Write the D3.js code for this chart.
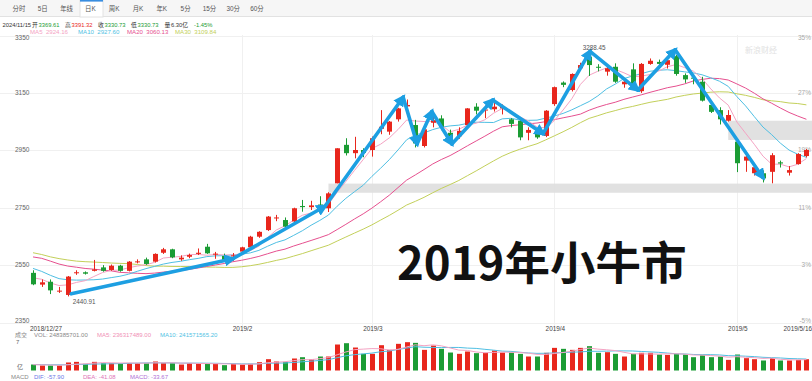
<!DOCTYPE html>
<html>
<head>
<meta charset="utf-8">
<script src="https://cdn.jsdelivr.net/npm/d3@7/dist/d3.min.js"></script>
<style>
  body { margin: 0; background: #fff; }
  svg { display: block; }
</style>
</head>
<body>
<div id="chart"></div>
<script>
// Shanghai composite daily K, 2018/12/27 - 2019/5/16
const dates = [
  "2018/12/27","2018/12/28",
  "2019/01/02","2019/01/03","2019/01/04","2019/01/07","2019/01/08","2019/01/09","2019/01/10","2019/01/11",
  "2019/01/14","2019/01/15","2019/01/16","2019/01/17","2019/01/18","2019/01/21","2019/01/22","2019/01/23",
  "2019/01/24","2019/01/25","2019/01/28","2019/01/29","2019/01/30","2019/01/31",
  "2019/02/01","2019/02/11","2019/02/12","2019/02/13","2019/02/14","2019/02/15","2019/02/18","2019/02/19",
  "2019/02/20","2019/02/21","2019/02/22","2019/02/25","2019/02/26","2019/02/27","2019/02/28",
  "2019/03/01","2019/03/04","2019/03/05","2019/03/06","2019/03/07","2019/03/08","2019/03/11","2019/03/12",
  "2019/03/13","2019/03/14","2019/03/15","2019/03/18","2019/03/19","2019/03/20","2019/03/21","2019/03/22",
  "2019/03/25","2019/03/26","2019/03/27","2019/03/28","2019/03/29",
  "2019/04/01","2019/04/02","2019/04/03","2019/04/04","2019/04/08","2019/04/09","2019/04/10","2019/04/11",
  "2019/04/12","2019/04/15","2019/04/16","2019/04/17","2019/04/18","2019/04/19","2019/04/22","2019/04/23",
  "2019/04/24","2019/04/25","2019/04/26","2019/04/29","2019/04/30",
  "2019/05/06","2019/05/07","2019/05/08","2019/05/09","2019/05/10","2019/05/13","2019/05/14","2019/05/15","2019/05/16"
]
const opens = [
  2523,2482,2492,2459,2446,2522,2525,2530,2542,2533,
  2548,2530,2561,2570,2562,2593,2605,2570,2579,2589,
  2614,2588,2582,2580,2597,2612,2649,2672,2713,2707,
  2702,2756,2752,2761,2748,2835,2969,2940,2951,2951,
  3025,3015,3058,3103,3038,2965,3046,3061,3011,2999,
  3038,3102,3089,3093,3096,3058,3053,3011,3009,3000,
  3111,3186,3160,3236,3276,3241,3224,3241,3180,3232,
  3156,3251,3258,3248,3278,3212,3203,3189,3108,3090,
  3053,2980,2914,2870,2870,2875,2908,2872,2902,2930
]
const highs = [
  2532,2500,2500,2474,2512,2532,2528,2568,2550,2552,
  2551,2564,2570,2576,2591,2610,2607,2584,2590,2608,
  2624,2596,2590,2592,2614,2652,2668,2721,2725,2716,
  2750,2777,2774,2790,2804,2957,2992,2997,2957,2998,
  3090,3052,3098,3127,3056,3030,3079,3072,3022,3030,
  3097,3114,3106,3116,3110,3062,3060,3030,3015,3090,
  3172,3190,3218,3255,3288.45,3250,3250,3253,3200,3253,
  3254,3270,3266,3272,3282,3218,3210,3206,3115,3100,
  3090,2987,2940,2900,2880,2940,2914,2895,2940,2955
]
const lows = [
  2480,2474,2449,2453,2440.91,2516,2517,2528,2527,2530,
  2527,2528,2556,2551,2559,2589,2574,2565,2574,2585,
  2589,2572,2566,2565,2594,2610,2645,2669,2703,2682,
  2700,2736,2742,2735,2735,2835,2932,2922,2926,2928,
  3006,3004,3050,3075,2960,2960,3030,3020,2980,2990,
  3030,3075,3062,3085,3075,3030,2985,2985,2990,2996,
  3105,3170,3155,3230,3209,3225,3210,3185,3168,3175,
  3150,3248,3245,3235,3210,3185,3180,3120,3080,3040,
  3050,2874,2875,2862,2838,2835,2890,2862,2900,2925
]
const closes = [
  2483,2490,2462,2461,2510,2525,2520,2535,2530,2548,
  2530,2562,2563,2554,2589,2605,2577,2576,2585,2593,
  2591,2590,2568,2584,2612,2649,2666,2719,2716,2684,
  2748,2752,2758,2752,2800,2957,2940,2951,2941,2992,
  3032,3050,3096,3108,2974,3023,3055,3032,2988,3018,
  3096,3088,3092,3102,3102,3042,2995,3021,2995,3088,
  3170,3178,3216,3247,3247,3239,3236,3189,3189,3178,
  3251,3262,3251,3264,3216,3197,3200,3123,3084,3058,
  3073,2905,2928,2891,2852,2933,2904,2881,2937,2951
]
// volume, 亿
const volumes = [
  1.23,1.03,1.03,1.03,1.65,1.78,1.37,1.78,1.51,1.51,
  1.51,1.51,1.51,1.51,1.85,1.51,1.51,1.23,1.51,1.51,
  1.37,1.37,1.10,1.37,1.23,1.37,1.71,2.33,1.85,1.78,
  2.47,2.74,2.33,2.88,2.88,5.35,5.62,4.73,3.43,3.43,
  5.21,4.25,5.49,5.83,5.69,4.25,5.14,4.46,3.70,3.43,
  3.91,3.57,3.64,4.12,3.70,3.70,3.43,2.88,2.88,3.64,
  4.66,4.46,4.25,4.66,5.01,3.64,3.77,3.43,2.88,3.43,
  3.64,3.64,3.29,3.22,3.43,3.29,2.74,3.15,2.74,2.88,
  2.19,3.29,2.54,2.33,2.06,2.54,2.06,2.06,2.19,2.33
]
// closes / volumes before the first visible day, so the MAs start filled
const priorCloses = [
  2679,2704,2646,2652,2645,2579,2576,2575,2602,2567,2588,
  2655,2666,2650,2605,2606,2585,2594,2602,2634,2594,2598,2577,2550,2536,2516,2527,2505,2498
]
const priorVolumes = [1.25,1.3,1.2,1.35,1.28,1.2,1.15,1.3,1.1]

const priceTicks = [3350, 3150, 2950, 2750, 2550, 2350]
const pctTicks = ["35%", "27%", "19%", "11%", "3%", "-5%"]
const monthTickDates = ["2019/02/01", "2019/03/01", "2019/04/01", "2019/05/06"]
const monthTickLabels = ["2019/2", "2019/3", "2019/4", "2019/5"]
const tabs = ["分时","5日","年线","日K","周K","月K","年K","5分","15分","30分","60分"]

// gap bands: from the day before the gap, [low, high]
const gapFrom = ["2019/02/22", "2019/04/30"]
const gapLow = [2802, 2986]
const gapHigh = [2834, 3053]

// trend zigzag drawn on the chart (day index, price)
const zigIdx   = [4.4, 23, 33.6, 42.6, 44.2, 45.9, 48.2, 52.9, 58.7, 64.1, 69.6, 73.9, 84]
const zigPrice = [2450, 2572, 2755, 3135, 2972, 3085, 2972, 3125, 3008, 3295, 3160, 3300, 2855]

const W = 812, H = 381
const RED = "#e8261c", GREEN = "#1b9c34"
const MA_COLORS = { 5: "#f4a3c3", 10: "#4fbfe3", 20: "#e6508f", 30: "#c3d05a" }
const FONT = "'Liberation Sans', 'Noto Sans CJK SC', sans-serif"

const svg = d3.select("#chart").append("svg")
  .attr("width", W).attr("height", H)
  .style("font-family", FONT)

const x = d3.scaleLinear().domain([0, dates.length - 1]).range([33, 806.4])
const y = d3.scaleLinear().domain([2350, 3350]).range([322.5, 35.5])
const yv = d3.scaleLinear().domain([0, 7]).range([370.5, 336.5])
const idxOf = d => dates.indexOf(d)

// ---- toolbar
const bar = svg.append("g")
bar.append("rect").attr("width", W).attr("height", 16).attr("fill", "#f6f6f6")
bar.append("line").attr("x1", 0).attr("x2", W).attr("y1", 16.5).attr("y2", 16.5).attr("stroke", "#e2e2e2")
bar.append("rect").attr("x", 80).attr("y", 0).attr("width", 23).attr("height", 17)
  .attr("fill", "#fff").attr("stroke", "#e2e2e2")
bar.append("rect").attr("x", 80).attr("y", 0).attr("width", 23).attr("height", 1.6).attr("fill", "#3a8ee0")
bar.selectAll("text").data(tabs).join("text")
  .attr("x", (d, i) => 19 + i * 23.8).attr("y", 10.5)
  .attr("text-anchor", "middle").attr("font-size", 6.4).attr("fill", "#555")
  .text(d => d)

// ---- info rows
const info = [
  ["2024/11/15", "#333", 2.5], ["开", "#333", 32], ["3369.61", GREEN, 38.5],
  ["高", "#333", 65], ["3391.32", RED, 71.5], ["收", "#333", 98], ["3330.73", GREEN, 104.5],
  ["低", "#333", 131], ["3330.73", GREEN, 137.5], ["量", "#333", 164.5], ["6.30亿", "#333", 171],
  ["-1.45%", GREEN, 194]
]
svg.append("g").selectAll("text").data(info).join("text")
  .attr("x", d => d[2]).attr("y", 26.5).attr("font-size", 5.8).attr("fill", d => d[1])
  .text(d => d[0])

const maInfo = [["MA5  2924.16", 5, 30], ["MA10  2927.60", 10, 78], ["MA20  3060.13", 20, 127], ["MA30  3109.84", 30, 175]]
svg.append("g").selectAll("text").data(maInfo).join("text")
  .attr("x", d => d[2]).attr("y", 33.5).attr("font-size", 6.1).attr("fill", d => MA_COLORS[d[1]])
  .attr("xml:space", "preserve")
  .text(d => d[0])

// ---- grid
const grid = svg.append("g")
grid.selectAll("line.h").data(priceTicks).join("line")
  .attr("x1", 0).attr("x2", W).attr("y1", d => Math.round(y(d)) + 0.5).attr("y2", d => Math.round(y(d)) + 0.5)
  .attr("stroke", "#f0f0f0")
grid.selectAll("line.v").data(monthTickDates).join("line")
  .attr("x1", d => Math.round(x(idxOf(d))) + 0.5).attr("x2", d => Math.round(x(idxOf(d))) + 0.5)
  .attr("y1", 35).attr("y2", 333)
  .attr("stroke", "#f0f0f0")

// ---- gap bands
svg.append("g").selectAll("rect").data(gapFrom).join("rect")
  .attr("x", d => x(idxOf(d)))
  .attr("width", d => W - x(idxOf(d)))
  .attr("y", (d, i) => y(gapHigh[i]))
  .attr("height", (d, i) => y(gapLow[i]) - y(gapHigh[i]))
  .attr("fill", "#dedede").attr("opacity", 0.9)

// ---- axis labels
svg.append("g").selectAll("text").data(priceTicks).join("text")
  .attr("x", 15).attr("y", (d, i) => y(d) + (i === 0 ? 4.5 : i === priceTicks.length - 1 ? 0 : 2))
  .attr("font-size", 6.5).attr("fill", "#666").text(d => d)
svg.append("g").selectAll("text").data(pctTicks).join("text")
  .attr("x", 811).attr("y", (d, i) => y(priceTicks[i]) + (i === 0 ? 4.5 : i === priceTicks.length - 1 ? 0 : 2))
  .attr("text-anchor", "end").attr("font-size", 6.5).attr("fill", "#aaa").text(d => d)

// ---- moving averages
const allCloses = priorCloses.concat(closes)
function movingAvg(all, n, offset) {
  return dates.map((_, i) => {
    const j = i + offset
    return j - n + 1 < 0 ? null : d3.mean(all.slice(j - n + 1, j + 1))
  })
}
const maLine = d3.line().defined(d => d != null).x((d, i) => x(i)).y(d => y(d))
;[30, 20, 10, 5].forEach(n => {
  svg.append("path")
    .datum(movingAvg(allCloses, n, priorCloses.length))
    .attr("d", maLine)
    .attr("fill", "none").attr("stroke", MA_COLORS[n]).attr("stroke-width", 1)
})

// ---- candles
const idx = d3.range(dates.length)
const up = i => closes[i] >= opens[i]
const candles = svg.append("g")
candles.selectAll("line").data(idx).join("line")
  .attr("x1", i => Math.round(x(i)) + 0.5).attr("x2", i => Math.round(x(i)) + 0.5)
  .attr("y1", i => y(highs[i])).attr("y2", i => y(lows[i]))
  .attr("stroke", i => up(i) ? RED : GREEN)
candles.selectAll("rect").data(idx).join("rect")
  .attr("x", i => Math.round(x(i)) - 2)
  .attr("width", 5)
  .attr("y", i => y(Math.max(opens[i], closes[i])))
  .attr("height", i => Math.max(1, Math.abs(y(opens[i]) - y(closes[i]))))
  .attr("fill", i => up(i) ? RED : GREEN)

// ---- zigzag arrows
svg.append("defs").append("marker")
  .attr("id", "arrowhead")
  .attr("viewBox", "0 0 10 10")
  .attr("refX", 7).attr("refY", 5)
  .attr("markerUnits", "userSpaceOnUse")
  .attr("markerWidth", 12).attr("markerHeight", 12)
  .attr("orient", "auto")
  .append("path").attr("d", "M0,0L10,5L0,10z").attr("fill", "#1d9fe2")
svg.append("g").selectAll("line").data(d3.range(zigIdx.length - 1)).join("line")
  .attr("x1", k => x(zigIdx[k])).attr("y1", k => y(zigPrice[k]))
  .attr("x2", k => x(zigIdx[k + 1])).attr("y2", k => y(zigPrice[k + 1]))
  .attr("stroke", "#1d9fe2").attr("stroke-width", 3.6).attr("stroke-linecap", "round")
  .attr("marker-end", "url(#arrowhead)")

// ---- high / low labels
const hiI = d3.maxIndex(highs), loI = d3.minIndex(lows)
svg.append("text").attr("x", x(hiI) + 5).attr("y", y(highs[hiI]) - 3)
  .attr("text-anchor", "middle").attr("font-size", 6.3).attr("fill", "#555").text(highs[hiI].toFixed(2))
svg.append("text").attr("x", x(loI) + 5).attr("y", y(lows[loI]) + 8)
  .attr("font-size", 6.3).attr("fill", "#555").text(lows[loI].toFixed(2))

// watermark
svg.append("text").attr("x", 745).attr("y", 53).attr("font-size", 8).attr("fill", "#e2e2e2").text("新浪财经")

// ---- date axis
const dateLabels = [
  [dates[0], x(0) - 3, "start"],
  ...monthTickDates.map((d, i) => [monthTickLabels[i], x(idxOf(d)) + 1, "middle"]),
  ["2019/5/16", 812, "end"]
]
svg.append("g").selectAll("text").data(dateLabels).join("text")
  .attr("x", d => d[1]).attr("y", 331).attr("text-anchor", d => d[2])
  .attr("font-size", 6.4).attr("fill", "#444").text(d => d[0])

// ---- volume panel
const volHead = [["成交", "#888", 15], ["VOL: 248385701.00", "#888", 34], ["MA5: 236317489.00", "#f08fb5", 97], ["MA10: 241571565.20", "#4fbfe3", 160]]
svg.append("g").selectAll("text").data(volHead).join("text")
  .attr("x", d => d[2]).attr("y", 336.5).attr("font-size", 6).attr("fill", d => d[1]).text(d => d[0])
svg.append("text").attr("x", 16).attr("y", 344).attr("font-size", 6).attr("fill", "#666").text("7")
svg.append("text").attr("x", 17).attr("y", 368.5).attr("font-size", 6).attr("fill", "#666").text("亿")

svg.append("g").selectAll("rect").data(idx).join("rect")
  .attr("x", i => Math.round(x(i)) - 2).attr("width", 5)
  .attr("y", i => yv(volumes[i])).attr("height", i => yv(0) - yv(volumes[i]))
  .attr("fill", i => up(i) ? RED : GREEN)

const allVols = priorVolumes.concat(volumes)
const volLine = d3.line().defined(d => d != null).x((d, i) => x(i)).y(d => yv(d))
;[[10, "#4fbfe3"], [5, "#f4a3c3"]].forEach(([n, c]) => {
  svg.append("path").datum(movingAvg(allVols, n, priorVolumes.length))
    .attr("d", volLine).attr("fill", "none").attr("stroke", c).attr("stroke-width", 1)
})

// ---- MACD header
const macdHead = [["MACD", "#888", 11], ["DIF: -57.90", "#6b76e6", 34], ["DEA: -41.08", "#e074b8", 83], ["MACD: -33.67", "#b070d6", 130]]
svg.append("g").selectAll("text").data(macdHead).join("text")
  .attr("x", d => d[2]).attr("y", 378.5).attr("font-size", 6).attr("fill", d => d[1]).text(d => d[0])

// ---- title
svg.append("text").attr("x", 397).attr("y", 280)
  .attr("font-family", "'Noto Sans CJK SC', sans-serif")
  .attr("font-weight", 700).attr("font-size", 45.5).attr("fill", "#111")
  .text("2019年小牛市")
</script>
</body>
</html>
